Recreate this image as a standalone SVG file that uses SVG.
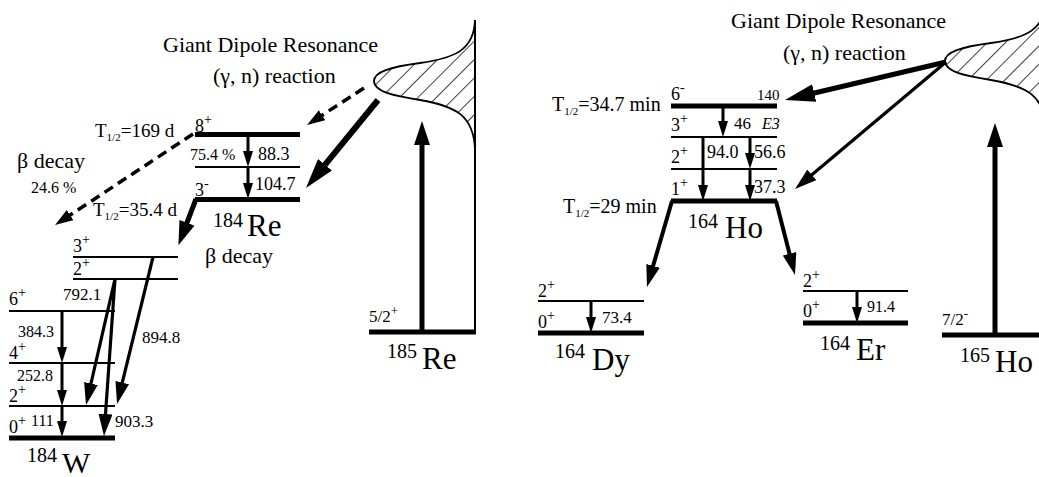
<svg xmlns="http://www.w3.org/2000/svg" width="1039" height="477" viewBox="0 0 1039 477" font-family="'Liberation Serif', 'DejaVu Serif', serif">
<style>
text{font-family:'Liberation Serif','DejaVu Serif',serif;fill:#000}
.lvk{stroke:#000;stroke-width:5;fill:none}
.lvt{stroke:#000;stroke-width:1.8;fill:none}
.g3{stroke:#000;stroke-width:3;fill:none;marker-end:url(#ms)}
.d3{stroke:#000;stroke-width:3.5;fill:none;stroke-dasharray:10,6;marker-end:url(#md)}
.dg{stroke:#000;stroke-width:3.2;fill:none;marker-end:url(#mm)}
.tk{stroke:#000;stroke-width:6;fill:none;marker-end:url(#ml)}
.tk2{stroke:#000;stroke-width:5;fill:none;marker-end:url(#ml2)}
.curve{stroke:#000;stroke-width:1.8;fill:url(#hatch)}
.l18{font-size:18px}
.big{font-size:31px}
.iso{font-size:20px}
</style>
<defs>
<marker id="ms" markerUnits="userSpaceOnUse" markerWidth="16" markerHeight="10" refX="8" refY="5" orient="auto"><path d="M0,0 L16,5 L0,10 z" fill="#000"/></marker>
<marker id="mm" markerUnits="userSpaceOnUse" markerWidth="22" markerHeight="14" refX="10" refY="7" orient="auto"><path d="M0,0 L22,7 L0,14 z" fill="#000"/></marker>
<marker id="md" markerUnits="userSpaceOnUse" markerWidth="18" markerHeight="12" refX="8" refY="6" orient="auto"><path d="M0,0 L18,6 L0,12 z" fill="#000"/></marker>
<marker id="ml" markerUnits="userSpaceOnUse" markerWidth="30" markerHeight="18" refX="14" refY="9" orient="auto"><path d="M0,0 L30,9 L0,18 z" fill="#000"/></marker>
<marker id="ml2" markerUnits="userSpaceOnUse" markerWidth="24" markerHeight="16" refX="10" refY="8" orient="auto"><path d="M0,0 L24,8 L0,16 z" fill="#000"/></marker>
<pattern id="hatch" patternUnits="userSpaceOnUse" width="13" height="13" patternTransform="rotate(45)"><line x1="0" y1="0" x2="0" y2="13" stroke="#000" stroke-width="1.5"/></pattern>
<path id="gauss" d="M475,20 C474,50 455,58 420,63 C390,67 374,72 374,81 C374,92 395,96 420,100 C455,106 474,115 475,150 Z"/>
</defs>

<g id="gdr-left">
<use href="#gauss" class="curve"/>
<text x="163" y="52" font-size="22">Giant Dipole Resonance</text>
<text x="213" y="83" font-size="22">(γ, n) reaction</text>
</g>

<g id="re184">
<line class="lvk" x1="195" y1="134.5" x2="300" y2="134.5"/>
<line class="lvt" x1="195" y1="167" x2="300" y2="167"/>
<line class="lvk" x1="195" y1="199.5" x2="300" y2="199.5"/>
<text x="195" y="132" class="l18">8<tspan dy="-8" font-size="14">+</tspan></text>
<text x="95" y="137" font-size="19">T<tspan font-size="11" dy="4">1/2</tspan><tspan dy="-4">=169 d</tspan></text>
<text x="190" y="160" font-size="16">75.4 %</text>
<text x="258" y="160" class="l18">88.3</text>
<text x="195" y="196" class="l18">3<tspan dy="-8" font-size="14">-</tspan></text>
<text x="255" y="190" class="l18">104.7</text>
<text x="93" y="216" font-size="19">T<tspan font-size="11" dy="4">1/2</tspan><tspan dy="-4">=35.4 d</tspan></text>
<text x="213" y="227" class="iso">184</text>
<text x="247" y="236" class="big">Re</text>
<text x="17" y="168" font-size="22">β decay</text>
<text x="31" y="193" font-size="16">24.6 %</text>
<text x="205" y="263" font-size="22">β decay</text>
</g>

<g id="w184">
<line class="lvt" x1="73" y1="257" x2="178" y2="257"/>
<line class="lvt" x1="73" y1="279" x2="178" y2="279"/>
<line class="lvt" x1="9" y1="311" x2="115" y2="311"/>
<line class="lvt" x1="9" y1="363" x2="115" y2="363"/>
<line class="lvt" x1="9" y1="406" x2="115" y2="406"/>
<line class="lvk" x1="9" y1="438" x2="115" y2="438"/>
<text x="73" y="252" class="l18">3<tspan dy="-8" font-size="14">+</tspan></text>
<text x="73" y="275" class="l18">2<tspan dy="-8" font-size="14">+</tspan></text>
<text x="9" y="305" class="l18">6<tspan dy="-8" font-size="14">+</tspan></text>
<text x="63" y="300" font-size="17">792.1</text>
<text x="18" y="337" font-size="16">384.3</text>
<text x="9" y="359" class="l18">4<tspan dy="-8" font-size="14">+</tspan></text>
<text x="17" y="381" font-size="16">252.8</text>
<text x="9" y="402" class="l18">2<tspan dy="-8" font-size="14">+</tspan></text>
<text x="9" y="433" class="l18">0<tspan dy="-8" font-size="14">+</tspan></text>
<text x="31" y="426" font-size="16">111</text>
<text x="142" y="343" font-size="17">894.8</text>
<text x="115" y="427" font-size="17">903.3</text>
<text x="27" y="462" class="iso">184</text>
<text x="62" y="473" font-size="30">W</text>
</g>

<g id="re185">
<line class="lvk" x1="369" y1="332" x2="476" y2="332"/>
<line stroke="#000" stroke-width="2" x1="475" y1="20" x2="475" y2="334"/>
<text x="369" y="322" font-size="17">5/2<tspan dy="-7" font-size="13">+</tspan></text>
<text x="387" y="358" class="iso">185</text>
<text x="422" y="369" class="big">Re</text>
</g>

<g id="gdr-right">
<use href="#gauss" class="curve" transform="translate(571,-20)"/>
<text x="731" y="28" font-size="22">Giant Dipole Resonance</text>
<text x="783" y="60" font-size="22">(γ, n) reaction</text>
</g>

<g id="ho164">
<line class="lvk" x1="671" y1="106" x2="777" y2="106"/>
<line class="lvt" x1="671" y1="137" x2="777" y2="137"/>
<line class="lvt" x1="671" y1="169" x2="777" y2="169"/>
<line class="lvk" x1="671" y1="201" x2="777" y2="201"/>
<text x="552" y="111" font-size="20">T<tspan font-size="11" dy="4">1/2</tspan><tspan dy="-4">=34.7 min</tspan></text>
<text x="671" y="100" class="l18">6<tspan dy="-8" font-size="14">-</tspan></text>
<text x="757" y="100" font-size="15">140</text>
<text x="671" y="131" class="l18">3<tspan dy="-8" font-size="14">+</tspan></text>
<text x="734" y="129" font-size="17">46</text>
<text x="762" y="129" font-size="16" font-style="italic">E3</text>
<text x="671" y="163" class="l18">2<tspan dy="-8" font-size="14">+</tspan></text>
<text x="707" y="158" class="l18">94.0</text>
<text x="754" y="158" class="l18">56.6</text>
<text x="671" y="195" class="l18">1<tspan dy="-8" font-size="14">+</tspan></text>
<text x="754" y="193" class="l18">37.3</text>
<text x="563" y="213" font-size="20">T<tspan font-size="11" dy="4">1/2</tspan><tspan dy="-4">=29 min</tspan></text>
<text x="688" y="228" class="iso">164</text>
<text x="725" y="238" class="big">Ho</text>
</g>

<g id="dy164">
<line class="lvt" x1="538" y1="301" x2="644" y2="301"/>
<line class="lvk" x1="538" y1="333" x2="644" y2="333"/>
<text x="538" y="297" class="l18">2<tspan dy="-8" font-size="14">+</tspan></text>
<text x="538" y="328" class="l18">0<tspan dy="-8" font-size="14">+</tspan></text>
<text x="602" y="323" font-size="17">73.4</text>
<text x="555" y="358" class="iso">164</text>
<text x="592" y="370" class="big">Dy</text>
</g>

<g id="er164">
<line class="lvt" x1="803" y1="291" x2="908" y2="291"/>
<line class="lvk" x1="803" y1="323" x2="908" y2="323"/>
<text x="803" y="287" class="l18">2<tspan dy="-8" font-size="14">+</tspan></text>
<text x="803" y="317" class="l18">0<tspan dy="-8" font-size="14">+</tspan></text>
<text x="867" y="312" font-size="16">91.4</text>
<text x="820" y="350" class="iso">164</text>
<text x="856" y="360" class="big">Er</text>
</g>

<g id="ho165">
<line class="lvk" x1="942" y1="335" x2="1039" y2="335"/>
<text x="942" y="325" font-size="17">7/2<tspan dy="-7" font-size="13">-</tspan></text>
<text x="960" y="362" class="iso">165</text>
<text x="995" y="372" class="big">Ho</text>
</g>

<g id="connectors">
<line class="d3" x1="193" y1="134" x2="63.4" y2="219.5"/>
<line class="tk2" x1="196" y1="199" x2="183.4" y2="232.1"/>
<line class="g3" x1="248" y1="135" x2="248" y2="159"/>
<line class="g3" x1="248" y1="168" x2="248" y2="191"/>
<line class="d3" x1="364" y1="88" x2="315.4" y2="119.6"/>
<line class="tk" x1="378" y1="100" x2="316.1" y2="175.6"/>
<line class="tk2" x1="422" y1="332" x2="422" y2="135"/>
<line class="g3" x1="62" y1="311" x2="62" y2="355"/>
<line class="g3" x1="62" y1="363" x2="62" y2="398"/>
<line class="g3" x1="62" y1="406" x2="62" y2="429"/>
<line class="dg" x1="115" y1="279" x2="88.7" y2="393.3"/>
<line class="dg" x1="115" y1="279" x2="104.8" y2="424"/>
<line class="dg" x1="153" y1="257" x2="119.9" y2="392.3"/>
<line class="tk2" x1="946" y1="62" x2="800.6" y2="96.3" style="marker-end:url(#ml)"/>
<line class="dg" x1="946" y1="62" x2="804.2" y2="181.3"/>
<line class="g3" x1="723" y1="107" x2="723" y2="129"/>
<line class="g3" x1="703" y1="138" x2="703" y2="193"/>
<line class="g3" x1="750" y1="138" x2="750" y2="161"/>
<line class="g3" x1="750" y1="170" x2="750" y2="193"/>
<line class="dg" x1="672" y1="201" x2="650.3" y2="275.5" style="stroke-width:4"/>
<line class="dg" x1="776" y1="201" x2="792" y2="263.4" style="stroke-width:4"/>
<line class="g3" x1="591" y1="302" x2="591" y2="325"/>
<line class="g3" x1="857" y1="292" x2="857" y2="315"/>
<line class="tk2" x1="995" y1="335" x2="995" y2="137"/>
</g>
</svg>
